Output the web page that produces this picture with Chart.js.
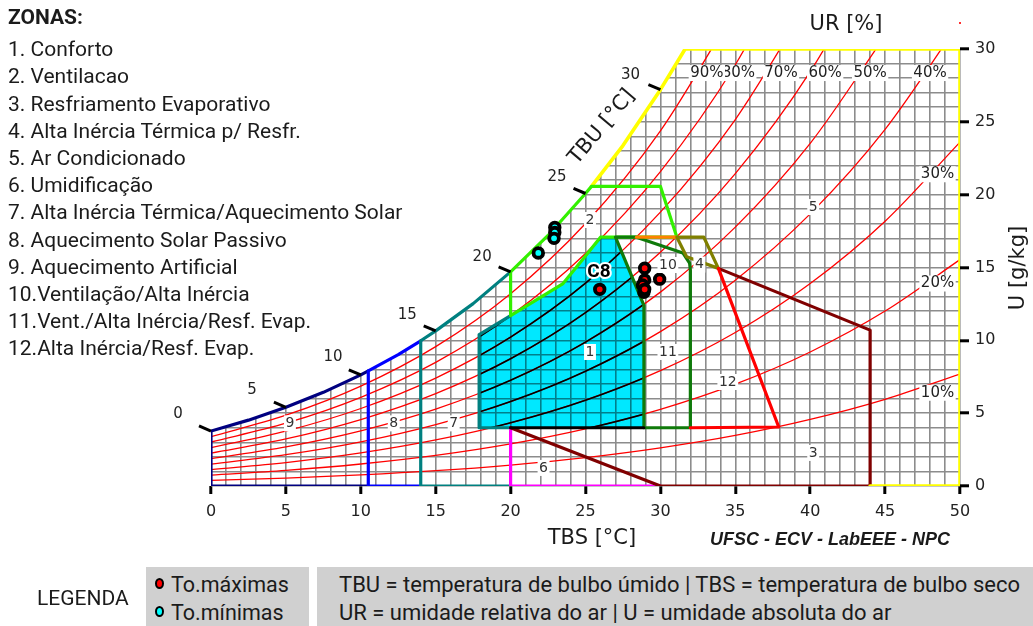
<!DOCTYPE html>
<html>
<head>
<meta charset="utf-8">
<title>Carta bioclimática</title>
<script src="https://cdn.jsdelivr.net/npm/chart.js@4.4.1/dist/chart.umd.min.js"></script>
<style>
  html, body { margin: 0; padding: 0; background: #fff; }
  #page { position: relative; width: 1033px; height: 626px; overflow: hidden; font-family: Roboto, sans-serif; color: #1b1b1b; }
  #chart { position: absolute; left: 0; top: 0; }
  #zonas { position: absolute; left: 8px; top: 4px; font-size: 21px; line-height: 27.2px; white-space: nowrap; }
  #zonas .tit { font-weight: bold; margin-bottom: 5px; }
  #legenda { position: absolute; left: 37px; top: 585px; font-size: 21px; line-height: 26px; }
  .box { position: absolute; top: 567px; height: 55px; padding-top: 4px; background: #d0d0d0; white-space: nowrap; line-height: 28px; }
  #box1 { left: 146px; width: 163px; font-size: 21.5px; }
  #box1 div { padding-left: 9px; }
  #box2 { left: 317px; width: 716px; font-size: 22px; }
  #box2 div { padding-left: 22px; }
  .dot { display: inline-block; width: 5px; height: 7px; border: 2.5px solid #000; border-radius: 50%; margin-right: 7px; vertical-align: 3px; }
  .red { background: #ff0000; }
  .cy { background: #00ffff; }
</style>
</head>
<body>
<div id="page">
  <canvas id="chart" width="1033" height="626"></canvas>
  <div id="zonas">
    <div class="tit">ZONAS:</div>
    <div>1. Conforto</div>
    <div>2. Ventilacao</div>
    <div>3. Resfriamento Evaporativo</div>
    <div>4. Alta Inércia Térmica p/ Resfr.</div>
    <div>5. Ar Condicionado</div>
    <div>6. Umidificação</div>
    <div>7. Alta Inércia Térmica/Aquecimento Solar</div>
    <div>8. Aquecimento Solar Passivo</div>
    <div>9. Aquecimento Artificial</div>
    <div>10.Ventilação/Alta Inércia</div>
    <div>11.Vent./Alta Inércia/Resf. Evap.</div>
    <div>12.Alta Inércia/Resf. Evap.</div>
  </div>
  <div id="legenda">LEGENDA</div>
  <div class="box" id="box1">
    <div><span class="dot red"></span>To.máximas</div>
    <div><span class="dot cy"></span>To.mínimas</div>
  </div>
  <div class="box" id="box2">
    <div>TBU = temperatura de bulbo úmido | TBS = temperatura de bulbo seco</div>
    <div>UR = umidade relativa do ar | U = umidade absoluta do ar</div>
  </div>
</div>
<script>
// saturation curve (UR 100%): TBS [°C] -> U [g/kg]
const satT = [0, 2.5, 5, 7.5, 10, 10.5, 12.5, 14, 15, 17.5, 20, 22.5, 25, 25.4, 27.5, 30, 31.65];
const satU = [3.77, 4.52, 5.40, 6.43, 7.63, 7.90, 9.02, 9.97, 10.65, 12.52, 14.70, 17.20, 20.08, 20.57, 23.37, 27.21, 30.0];

// relative humidity curves, U read every 5 °C
const tbsSteps = [0, 5, 10, 15, 20, 25, 30, 35, 40, 45, 50];
const ur10 = [0.38, 0.54, 0.76, 1.05, 1.44, 1.95, 2.62, 3.47, 4.57, 5.95, 7.68];
const ur20 = [0.75, 1.07, 1.51, 2.10, 2.89, 3.92, 5.26, 6.99, 9.20, 12.01, 15.54];
const ur30 = [1.13, 1.61, 2.27, 3.16, 4.34, 5.89, 7.92, 10.54, 13.90, 18.18, 23.61];
const ur40 = [1.50, 2.15, 3.03, 4.22, 5.80, 7.88, 10.60, 14.13, 18.68, 24.48, 31.88];
const ur50 = [1.88, 2.69, 3.79, 5.28, 7.26, 9.88, 13.31, 17.77, 23.52, 30.91];
const ur60 = [2.26, 3.23, 4.56, 6.34, 8.74, 11.90, 16.04, 21.44, 28.44, 37.46];
const ur70 = [2.64, 3.77, 5.32, 7.41, 10.22, 13.92, 18.80, 25.16, 33.43];
const ur80 = [3.02, 4.31, 6.09, 8.49, 11.70, 15.96, 21.58, 28.92, 38.50];
const ur90 = [3.39, 4.86, 6.86, 9.57, 13.20, 18.02, 24.38, 32.73];
const urCurves = [ur10, ur20, ur30, ur40, ur50, ur60, ur70, ur80, ur90];
const urLabels = ['10%', '20%', '30%', '40%', '50%', '60%', '70%', '80%', '90%'];
const urLabelT = [48.5, 48.5, 48.5, 48.0, 44.0, 41.0, 38.05, 35.2, 33.1];
const urLabelU = [6.4, 13.9, 21.4, 28.35, 28.35, 28.35, 28.35, 28.35, 28.35];

// wet bulb (TBU) marks on the saturation curve
const tbuValues = [0, 5, 10, 15, 20, 25, 30];
const tbuSatU = [3.77, 5.40, 7.63, 10.65, 14.70, 20.08, 27.21];
const tbuLabelT = [-2.2, 2.74, 8.14, 13.1, 18.1, 23.1, 28.0];
const tbuLabelU = [4.94, 6.59, 8.85, 11.74, 15.72, 21.2, 28.2];

// zone numbers
const zoneNums = ['1', '2', '3', '4', '5', '6', '7', '8', '9', '10', '11', '12'];
const zoneLabelT = [25.3, 25.3, 40.2, 32.6, 40.2, 22.2, 16.2, 12.2, 5.27, 30.5, 30.5, 34.5];
const zoneLabelU = [9.2, 18.26, 2.27, 15.2, 19.15, 1.24, 4.3, 4.3, 4.3, 15.17, 9.2, 7.14];

// climate data
const maxT = [28.95, 28.95, 28.8, 28.9, 28.95, 29.95, 25.95];
const maxU = [14.95, 14.15, 13.8, 13.3, 13.5, 14.2, 13.5];
const minT = [22.95, 22.95, 21.85, 22.9];
const minU = [17.75, 17.4, 16.0, 17.0];

// zone outlines as [TBS, U]
const zone1 = [[17.9, 4], [17.9, 10.4], [20, 11.7], [23.5, 13.9], [24.85, 15.6], [26, 17.08], [27, 17.08], [28.9, 12.4], [28.9, 4], [17.9, 4]];
const zone2 = [[27, 17.08], [26, 17.08], [24.85, 15.6], [23.5, 13.9], [20, 11.7]];
const zone2Top = [[30, 20.57], [31.1, 17.08], [27, 17.08]];
const zone3 = [[20, 4], [30, 0], [44, 0], [44, 10.7], [33.87, 14.94]];
const zone4 = [[31.1, 17.08], [32.9, 17.08], [33.87, 14.94], [31.75, 15.74], [31.1, 17.08]];
const zone5 = [[44, 0], [50, 0], [50, 30], [31.65, 30]];
const zone6 = [[30, 0], [20, 0], [20, 4]];
const zone7 = [[20, 0], [14, 0]];
const zone7Inner = [[20, 4], [17.9, 4], [17.9, 10.4], [20, 11.7]];
const zone8 = [[14, 0], [10.5, 0]];
const zone9 = [[10.5, 0], [0, 0]];
const zone10 = [[28.4, 17.08], [31.1, 17.08]];
const zone11 = [[27, 17.08], [28.4, 17.08], [31.5, 16.0], [31.95, 15.3], [32, 14.8], [32, 4], [28.9, 4], [28.9, 12.4], [27, 17.08]];
const zone12 = [[32, 4], [37.9, 4.05], [33.87, 14.94]];
const comfortBase = [[20, 4], [28.9, 4]];

const xy = (T, U) => U.map((u, i) => ({ x: T[i], y: u }));
const pairs = list => list.map(p => ({ x: p[0], y: p[1] }));
const satPts = (a, b) => xy(satT, satU).filter(p => p.x >= a && p.x <= b);

const datasets = [];
function add(ds) {
  ds.order = -datasets.length;   // keep array order = drawing order
  ds.pointRadius = ds.pointRadius || 0;
  datasets.push(ds);
  return ds;
}
function outline(points, color, width) {
  return add({ data: points, borderColor: color, borderWidth: width || 3.2, fill: false, tension: 0,
               borderJoinStyle: 'round', borderCapStyle: 'round' });
}

// comfort zone fill (index 0, drawn with multiply so the grid shows through)
add({ data: pairs(zone1), fill: 'shape', backgroundColor: '#00e8ff', borderColor: 'rgba(0,0,0,0)', borderWidth: 1 });
// hide the grid above the saturation curve
add({ data: xy(satT, satU), fill: 'end', backgroundColor: '#ffffff', borderColor: 'rgba(0,0,0,0)', borderWidth: 1 });

urCurves.forEach(c => add({ data: xy(tbsSteps, c), borderColor: '#ff0000', borderWidth: 1.3, cubicInterpolationMode: 'monotone' }));
add({ data: xy(satT, satU), borderColor: '#ff0000', borderWidth: 1.3 });
urCurves.forEach(c => add({ data: xy(tbsSteps, c), borderColor: '#000000', borderWidth: 1.6, cubicInterpolationMode: 'monotone', clipZone: true }));

outline(pairs(zone9).concat(satPts(0, 10.5)), '#000080');
outline(pairs(zone8).concat(satPts(10.5, 14)), '#0000ff');
outline(pairs(zone7).concat(satPts(14, 20)), '#008080');
outline(pairs(zone7Inner), '#008080');
outline(pairs(zone6), '#ff00ff');
outline(pairs(zone3), '#800000');
outline(pairs(zone5).concat(satPts(25.4, 31.65).reverse()), '#ffff00', 3.6);
outline(pairs(zone2).concat(satPts(20, 25.4), pairs(zone2Top)), '#33f000');
outline(pairs(zone11), '#0f7a0a');
outline(pairs(zone10), '#ff8000');
outline(pairs(zone4), '#808000');
outline(pairs(zone12), '#ff0000');
outline(pairs(comfortBase), '#000000', 3);

tbuValues.forEach((t, i) => add({
  data: [{ x: t, y: tbuSatU[i] }, { x: t - 0.8, y: tbuSatU[i] + 0.35 }],
  borderColor: '#000', borderWidth: 3, clip: false
}));

add({ data: xy(maxT, maxU), showLine: false, pointRadius: 4.8, pointBorderWidth: 3.8,
      pointBackgroundColor: '#ff0000', pointBorderColor: '#000' });
add({ data: xy(minT, minU), showLine: false, pointRadius: 4.8, pointBorderWidth: 3.8,
      pointBackgroundColor: '#00ffff', pointBorderColor: '#000' });

const ticksOn5 = c => (c.tick && c.tick.value % 5 === 0) ? '#000' : 'rgba(0,0,0,0)';
// no grid line on the left and top edges (outside the saturation curve)
const gridX = c => (c.tick && c.tick.value === 0) ? 'rgba(0,0,0,0)' : '#8c8c8c';
const gridY = c => (c.tick && c.tick.value === 30) ? 'rgba(0,0,0,0)' : '#8c8c8c';

const drawPlugin = {
  id: 'psychro',
  beforeDatasetsDraw(chart) {
    chart.ctx.save();
    chart.ctx.globalCompositeOperation = 'multiply';
  },
  beforeDatasetDraw(chart, args) {
    const ds = chart.data.datasets[args.index];
    if (ds.clipZone) {
      const pts = chart.getDatasetMeta(0).data;
      const ctx = chart.ctx;
      ctx.save();
      ctx.beginPath();
      pts.forEach((p, i) => i ? ctx.lineTo(p.x, p.y) : ctx.moveTo(p.x, p.y));
      ctx.closePath();
      ctx.clip();
    }
  },
  afterDatasetDraw(chart, args) {
    const ds = chart.data.datasets[args.index];
    if (args.index === 0 || ds.clipZone) chart.ctx.restore();
  },
  afterDatasetsDraw(chart) {
    const { ctx, scales: { x, y } } = chart;
    const put = (s, px, py, font, color, bg) => {
      ctx.font = font;
      ctx.textAlign = 'center';
      ctx.textBaseline = 'middle';
      if (bg) {
        const w = ctx.measureText(s).width;
        ctx.fillStyle = bg;
        ctx.fillRect(px - w / 2 - 1.5, py - 8, w + 3, 16);
      }
      ctx.fillStyle = color;
      ctx.fillText(s, px, py);
    };
    ctx.save();
    urLabels.forEach((s, i) => put(s, x.getPixelForValue(urLabelT[i]), y.getPixelForValue(urLabelU[i]), '15px "DejaVu Sans"', '#222', '#fff'));
    zoneNums.forEach((s, i) => put(s, x.getPixelForValue(zoneLabelT[i]), y.getPixelForValue(zoneLabelU[i]), '14px "DejaVu Sans"', '#333', '#fff'));
    tbuValues.forEach((v, i) => put(String(v), x.getPixelForValue(tbuLabelT[i]), y.getPixelForValue(tbuLabelU[i]), '15px "DejaVu Sans"', '#222'));

    // C8 tag
    ctx.font = 'bold 19px Roboto';
    ctx.textAlign = 'center';
    ctx.textBaseline = 'middle';
    ctx.lineWidth = 4;
    ctx.strokeStyle = '#fff';
    ctx.lineJoin = 'round';
    const cx = x.getPixelForValue(25.9), cy = y.getPixelForValue(14.7);
    ctx.strokeText('C8', cx, cy);
    ctx.fillStyle = '#000';
    ctx.fillText('C8', cx, cy);

    // axis titles
    put('UR [%]', 846, 25, '21px "DejaVu Sans"', '#1a1a1a');
    put('TBS [°C]', 592, 539, '21px "DejaVu Sans"', '#1a1a1a');
    put('UFSC - ECV - LabEEE - NPC', 830, 540, 'italic bold 18px "Liberation Sans"', '#1a1a1a');
    ctx.save();
    ctx.translate(602, 127);
    ctx.rotate(-50 * Math.PI / 180);
    put('TBU [°C]', 0, 0, '21px "DejaVu Sans"', '#1a1a1a');
    ctx.restore();
    ctx.save();
    ctx.translate(1019, 268);
    ctx.rotate(-Math.PI / 2);
    put('U [g/kg]', 0, 0, '21px "DejaVu Sans"', '#1a1a1a');
    ctx.restore();
    ctx.fillStyle = '#ff3030';
    ctx.fillRect(959, 22, 2, 2);
    ctx.restore();
  }
};

new Chart(document.getElementById('chart'), {
  type: 'line',
  data: { datasets: datasets },
  options: {
    responsive: false,
    animation: false,
    events: [],
    layout: { padding: { left: 211, right: 13, top: 49, bottom: 110 } },
    plugins: { legend: { display: false }, tooltip: { enabled: false } },
    scales: {
      x: {
        type: 'linear', min: 0, max: 50,
        border: { display: false },
        grid: { color: gridX, lineWidth: 1.6, tickLength: 8, tickColor: ticksOn5, tickWidth: 3 },
        ticks: { stepSize: 1, autoSkip: false, maxRotation: 0, padding: 8, color: '#222',
                 font: { family: 'DejaVu Sans', size: 16 },
                 callback: v => v % 5 === 0 ? v : '' },
        afterFit: s => { s.height = 30; }
      },
      y: {
        type: 'linear', position: 'right', min: 0, max: 30,
        border: { display: false },
        grid: { color: gridY, lineWidth: 1.6, tickLength: 9, tickColor: ticksOn5, tickWidth: 3 },
        ticks: { stepSize: 1, autoSkip: false, padding: 6, color: '#222',
                 font: { family: 'DejaVu Sans', size: 16 },
                 callback: v => v % 5 === 0 ? v : '' },
        afterFit: s => { s.width = 60; }
      }
    }
  },
  plugins: [drawPlugin]
});
</script>
</body>
</html>
